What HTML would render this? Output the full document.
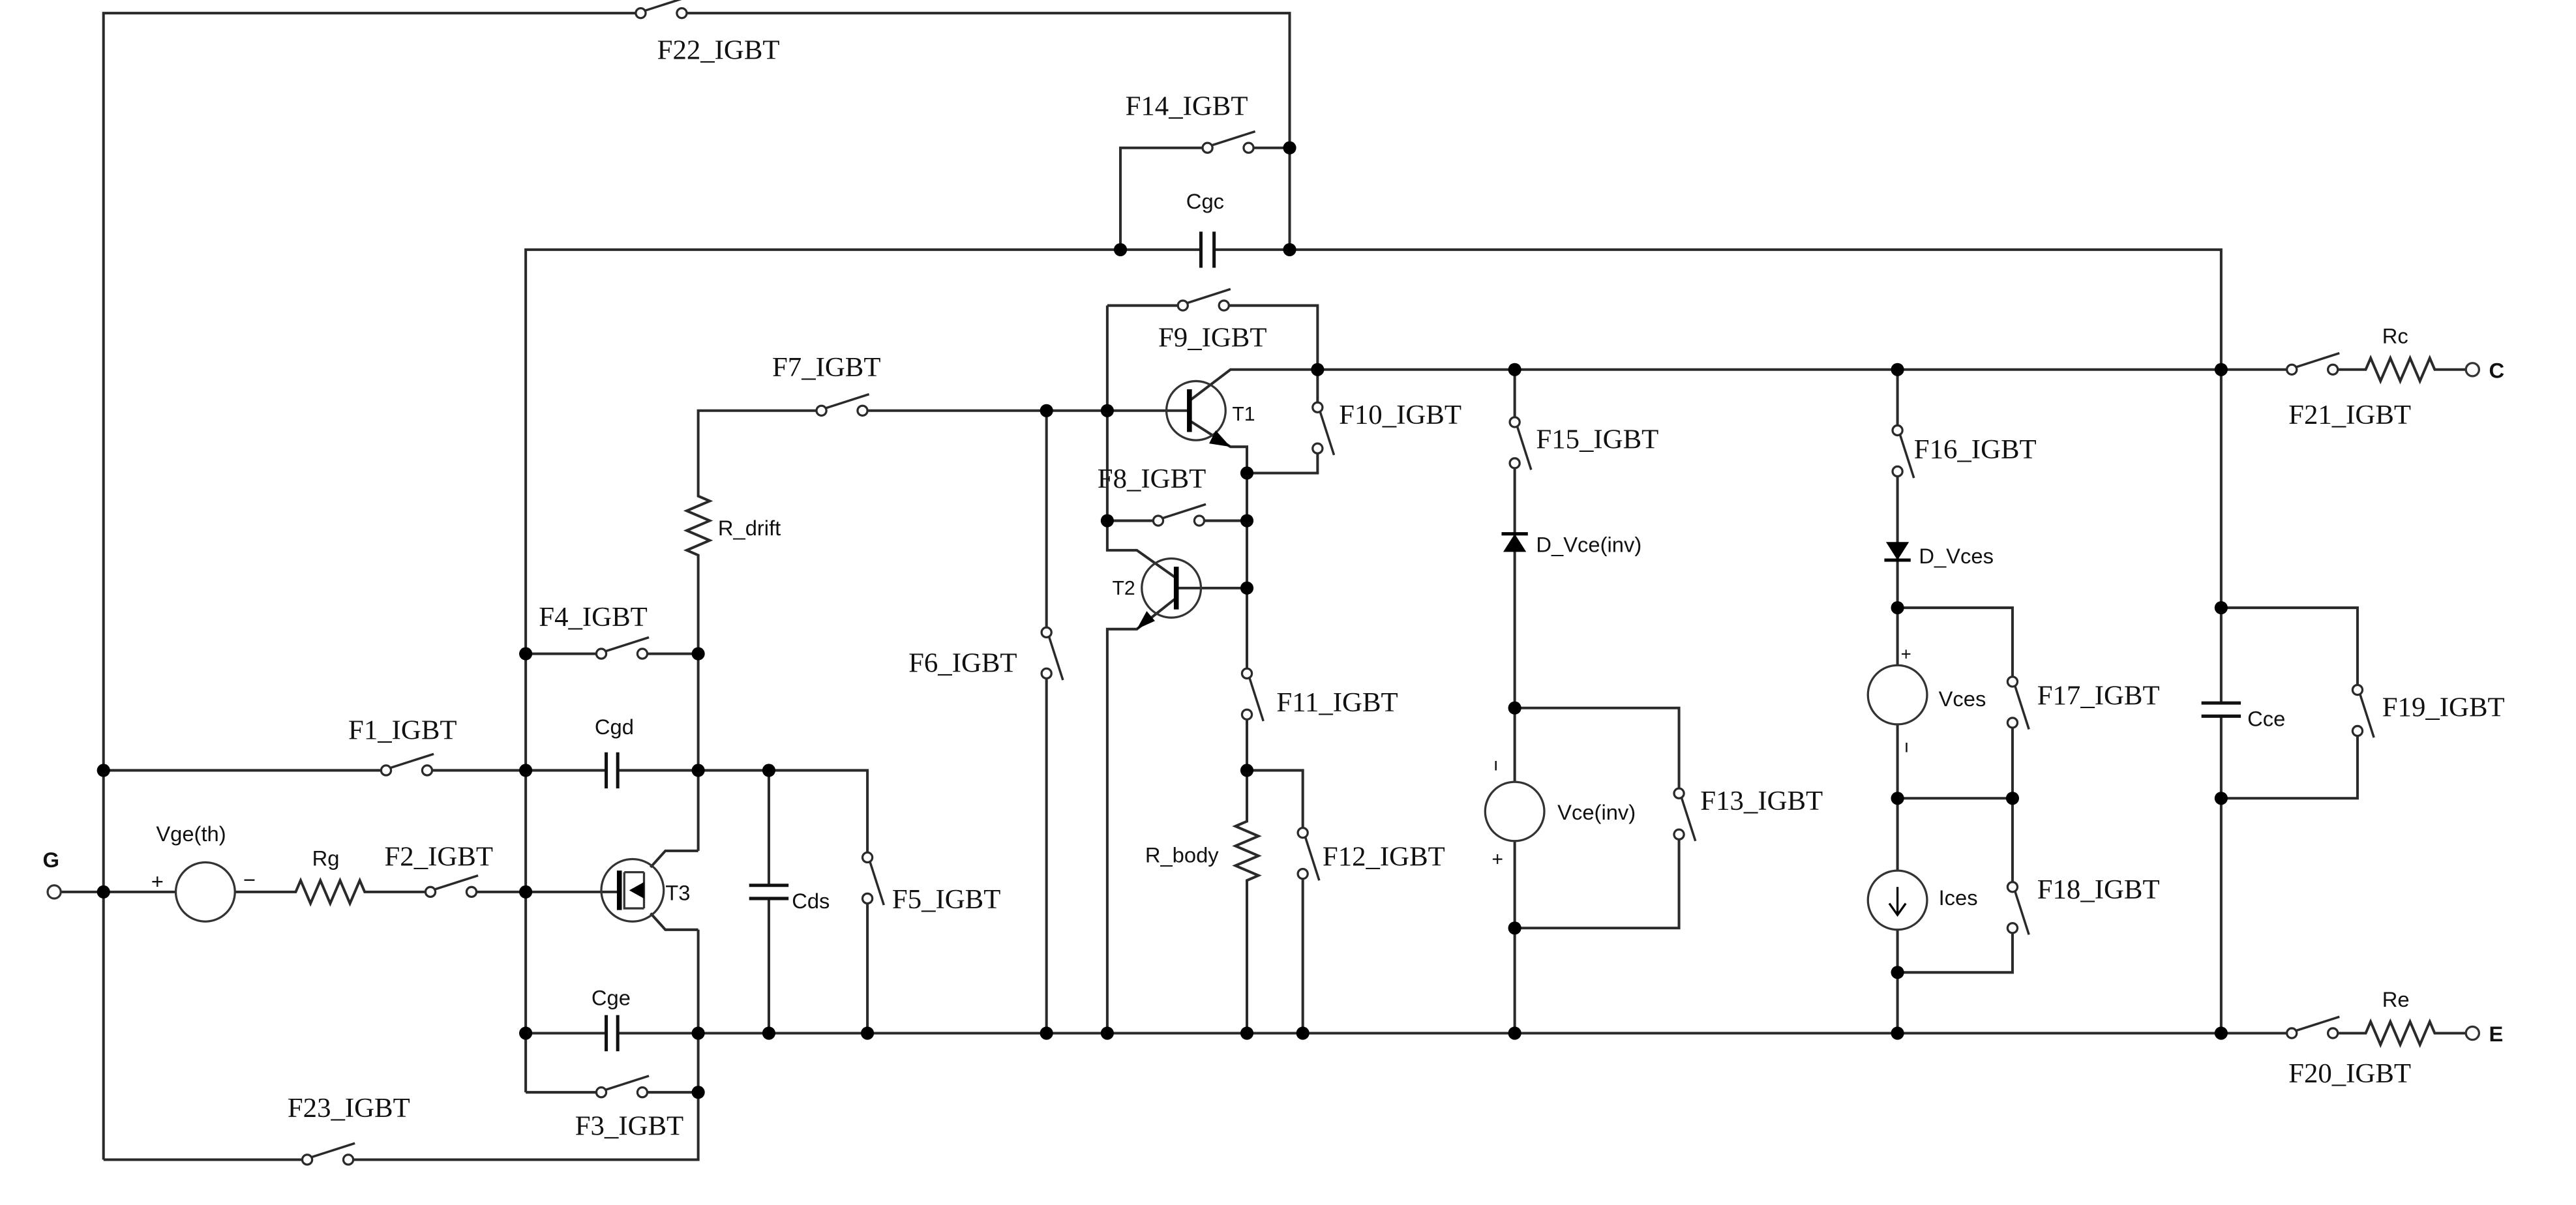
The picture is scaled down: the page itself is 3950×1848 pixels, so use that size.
<!DOCTYPE html>
<html><head><meta charset="utf-8"><style>
html,body{margin:0;padding:0;background:#fff;}
svg{display:block;}
.w{fill:none;stroke:#2a2a2a;stroke-width:1.6;}
.f{font-family:"Liberation Serif",serif;font-size:17px;fill:#111;}
.s{font-family:"Liberation Sans",sans-serif;font-size:13px;fill:#111;}
</style></head><body>
<svg width="3950" height="1848" viewBox="0 0 1568 733.6" preserveAspectRatio="none" xmlns="http://www.w3.org/2000/svg">
<defs>
<g id="sh"><line x1="2.5" y1="-1.5" x2="29" y2="-10" stroke="#2a2a2a" stroke-width="1.4"/><circle cx="0" cy="0" r="3" fill="#fff" stroke="#2a2a2a" stroke-width="1.3"/><circle cx="25" cy="0" r="3" fill="#fff" stroke="#2a2a2a" stroke-width="1.3"/></g>
<g id="sv"><line x1="1.5" y1="2.5" x2="10" y2="29" stroke="#2a2a2a" stroke-width="1.4"/><circle cx="0" cy="0" r="3" fill="#fff" stroke="#2a2a2a" stroke-width="1.3"/><circle cx="0" cy="25" r="3" fill="#fff" stroke="#2a2a2a" stroke-width="1.3"/></g>
</defs>
<g class="w">
<path d="M63 706 V8 H387 M418 8 H785 V152"/>
<path d="M682 152 V90 H732 M763 90 H785"/>
<path d="M320 665 V152 H731 M739 152 H1352 V428 M1352 436 V629"/>
<path d="M63 469 H232 M263 469 H320"/>
<path d="M320 469 H369 M376 469 H528 V519 M528 550 V629"/>
<path d="M37 543 H107 M143 543 H180 l3 -7 l6 14 l6 -14 l6 14 l6 -14 l6 14 l6 -14 l3 7 H259 M290 543 H376"/>
<path d="M320 398 H363 M394 398 H425"/>
<path d="M320 665 H363 M394 665 H425"/>
<path d="M63 706 H184 M215 706 H425 V566"/>
<path d="M425 518 V338 l-7 -3 l14 -6 l-14 -6 l14 -6 l-14 -6 l14 -6 l-7 -3 V250 H497 M528 250 H724"/>
<path d="M396 528 L405 518 H425 M396 556 L405 566 H425"/>
<path d="M468 469 V539 M468 547 V629"/>
<path d="M320 629 H369 M376 629 H1392 M1423 629 H1440 l3 -7 l6 14 l6 -14 l6 14 l6 -14 l6 14 l6 -14 l3 7 H1501"/>
<path d="M637 250 V382 M637 413 V629"/>
<path d="M674 186 V335 H692 L716 352 M716 364 L692 383 H674 V629"/>
<path d="M674 186 H717 M748 186 H802 V245 M802 276 V288 H759"/>
<path d="M724 244 L749 225 H1392 M1423 225 H1440 l3 -7 l6 14 l6 -14 l6 14 l6 -14 l6 14 l6 -14 l3 7 H1501"/>
<path d="M724 256 L749 272 H759 V407 M759 438 V500 l-7 3 l14 6 l-14 6 l14 6 l-14 6 l14 6 l-7 3 V629"/>
<path d="M674 317 H702 M733 317 H759"/>
<path d="M716 358 H759"/>
<path d="M759 469 H793 V504 M793 535 V629"/>
<path d="M922 225 V254 M922 285 V629"/>
<path d="M922 431 H1022 V480 M1022 511 V565 H922"/>
<path d="M1155 225 V259 M1155 290 V629"/>
<path d="M1155 370 H1225 V412 M1225 443 V537 M1225 568 V592 H1155 M1155 486 H1225"/>
<path d="M1352 370 H1435 V417 M1435 448 V486 H1352"/>
</g>
<g stroke="#111" stroke-width="2">
<path d="M731 141 V163 M739 141 V163"/>
<path d="M369 458 V480 M376 458 V480"/>
<path d="M369 618 V640 M376 618 V640"/>
<path d="M456 539 H480 M456 547 H480"/>
<path d="M1340 428 H1364 M1340 436 H1364"/>
</g>
<g fill="none" stroke="#333" stroke-width="1.3">
<circle cx="728" cy="250" r="18"/>
<circle cx="713" cy="358" r="18"/>
<circle cx="385" cy="542" r="19"/>
<circle cx="125" cy="543" r="18" fill="#fff"/>
<circle cx="922" cy="494" r="18" fill="#fff"/>
<circle cx="1155" cy="423" r="18" fill="#fff"/>
<circle cx="1155" cy="548" r="18" fill="#fff"/>
<path d="M380 531 V553 H392 M380 531 H392 M392 531 V553"/>
</g>
<g stroke="#000" stroke-width="3"><path d="M724 237 V263 M716 345 V371 M377 530 V554"/></g>
<path d="M749 272 L740 262 L736 270 Z M692 383 L698 372 L703 378 Z M383 542 L392 537 V547 Z" fill="#000"/>
<path d="M1155 540 V556 M1150 550 L1155 557 L1160 550" fill="none" stroke="#000" stroke-width="1.3"/>
<path d="M915 336 H929 L922 325 Z" fill="#000"/><path d="M914 325 H930" stroke="#000" stroke-width="2"/>
<path d="M1148 330 H1162 L1155 341 Z" fill="#000"/><path d="M1147 341 H1163" stroke="#000" stroke-width="2"/>
<g fill="#fff" stroke="#333" stroke-width="1.3"><circle cx="33" cy="543" r="4"/><circle cx="1505" cy="225" r="4"/><circle cx="1505" cy="629" r="4"/></g>
<use href="#sh" x="390" y="8"/><use href="#sh" x="735" y="90"/><use href="#sh" x="720" y="186"/>
<use href="#sh" x="500" y="250"/><use href="#sh" x="705" y="317"/><use href="#sh" x="366" y="398"/>
<use href="#sh" x="235" y="469"/><use href="#sh" x="262" y="543"/><use href="#sh" x="366" y="665"/>
<use href="#sh" x="187" y="706"/><use href="#sh" x="1395" y="629"/><use href="#sh" x="1395" y="225"/>
<use href="#sv" x="637" y="385"/><use href="#sv" x="802" y="248"/><use href="#sv" x="759" y="410"/>
<use href="#sv" x="793" y="507"/><use href="#sv" x="528" y="522"/><use href="#sv" x="922" y="257"/>
<use href="#sv" x="1022" y="483"/><use href="#sv" x="1155" y="262"/><use href="#sv" x="1225" y="415"/>
<use href="#sv" x="1225" y="540"/><use href="#sv" x="1435" y="420"/>
<g fill="#000">
<circle cx="63" cy="469" r="4"/><circle cx="63" cy="543" r="4"/><circle cx="320" cy="398" r="4"/><circle cx="320" cy="469" r="4"/>
<circle cx="320" cy="543" r="4"/><circle cx="320" cy="629" r="4"/><circle cx="425" cy="398" r="4"/><circle cx="425" cy="469" r="4"/>
<circle cx="468" cy="469" r="4"/><circle cx="425" cy="629" r="4"/><circle cx="468" cy="629" r="4"/><circle cx="528" cy="629" r="4"/>
<circle cx="637" cy="629" r="4"/><circle cx="674" cy="629" r="4"/><circle cx="759" cy="629" r="4"/><circle cx="793" cy="629" r="4"/>
<circle cx="922" cy="629" r="4"/><circle cx="1155" cy="629" r="4"/><circle cx="1352" cy="629" r="4"/><circle cx="425" cy="665" r="4"/>
<circle cx="682" cy="152" r="4"/><circle cx="785" cy="152" r="4"/><circle cx="785" cy="90" r="4"/><circle cx="637" cy="250" r="4"/>
<circle cx="674" cy="250" r="4"/><circle cx="802" cy="225" r="4"/><circle cx="922" cy="225" r="4"/><circle cx="1155" cy="225" r="4"/>
<circle cx="1352" cy="225" r="4"/><circle cx="759" cy="288" r="4"/><circle cx="674" cy="317" r="4"/><circle cx="759" cy="317" r="4"/>
<circle cx="759" cy="358" r="4"/><circle cx="759" cy="469" r="4"/><circle cx="922" cy="431" r="4"/><circle cx="922" cy="565" r="4"/>
<circle cx="1155" cy="370" r="4"/><circle cx="1155" cy="486" r="4"/><circle cx="1225" cy="486" r="4"/><circle cx="1155" cy="592" r="4"/>
<circle cx="1352" cy="370" r="4"/><circle cx="1352" cy="486" r="4"/>
</g>
<g class="f">
<text x="400" y="36">F22_IGBT</text><text x="685" y="70">F14_IGBT</text><text x="705" y="211">F9_IGBT</text>
<text x="470" y="229">F7_IGBT</text><text x="815" y="258">F10_IGBT</text><text x="668" y="297">F8_IGBT</text>
<text x="328" y="381">F4_IGBT</text><text x="553" y="409">F6_IGBT</text><text x="935" y="273">F15_IGBT</text>
<text x="1165" y="279">F16_IGBT</text><text x="1240" y="429">F17_IGBT</text><text x="1450" y="436">F19_IGBT</text>
<text x="212" y="450">F1_IGBT</text><text x="777" y="433">F11_IGBT</text><text x="1035" y="493">F13_IGBT</text>
<text x="234" y="527">F2_IGBT</text><text x="543" y="553">F5_IGBT</text><text x="805" y="527">F12_IGBT</text>
<text x="1240" y="547">F18_IGBT</text><text x="1393" y="659">F20_IGBT</text><text x="1393" y="258">F21_IGBT</text>
<text x="175" y="680">F23_IGBT</text><text x="350" y="691">F3_IGBT</text>
</g>
<g class="s">
<text x="722" y="127">Cgc</text><text x="750" y="256" font-size="12">T1</text><text x="677" y="362" font-size="12">T2</text>
<text x="437" y="326">R_drift</text><text x="935" y="336">D_Vce(inv)</text><text x="1168" y="343">D_Vces</text>
<text x="1180" y="430">Vces</text><text x="1157" y="402" font-size="11">+</text><text x="1159" y="458" font-size="11">ı</text>
<text x="1368" y="442">Cce</text><text x="362" y="447">Cgd</text><text x="948" y="499">Vce(inv)</text>
<text x="909" y="469" font-size="11">ı</text><text x="908" y="527" font-size="12">+</text>
<text x="26" y="528" font-weight="bold">G</text><text x="95" y="512">Vge(th)</text><text x="92" y="541">+</text><text x="148" y="540">−</text>
<text x="190" y="527">Rg</text><text x="405" y="548">T3</text><text x="482" y="553">Cds</text>
<text x="697" y="525">R_body</text><text x="1180" y="551">Ices</text><text x="360" y="612">Cge</text>
<text x="1450" y="613">Re</text><text x="1515" y="634" font-weight="bold">E</text><text x="1515" y="230" font-weight="bold">C</text><text x="1450" y="209">Rc</text>
</g>
</svg>
</body></html>
